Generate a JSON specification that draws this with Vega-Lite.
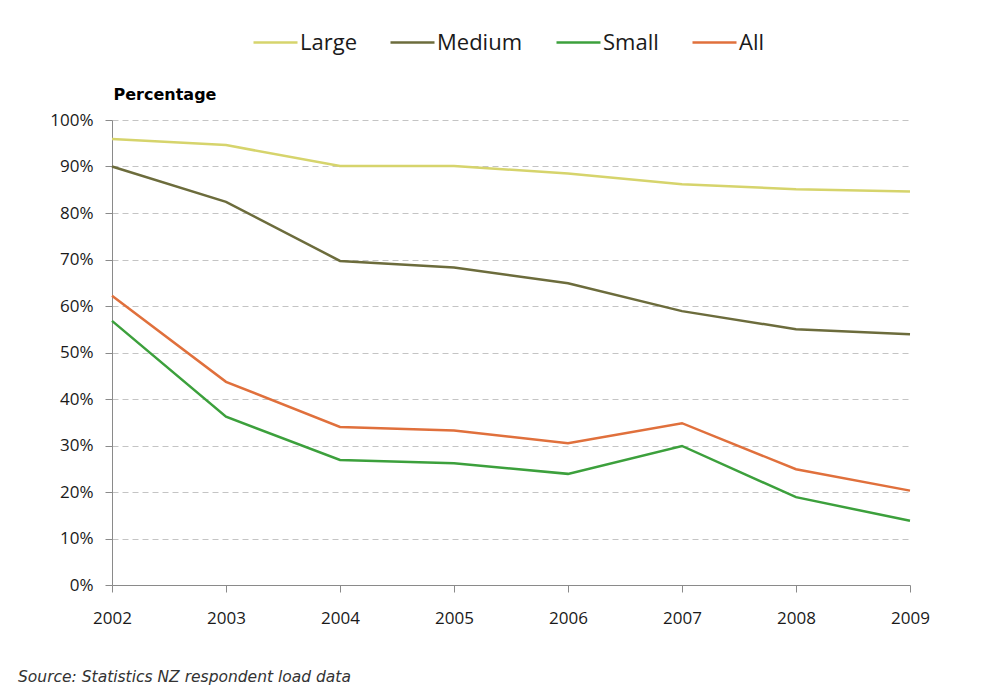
{
  "$schema": "https://vega.github.io/schema/vega-lite/v6.json",
  "width": 798,
  "height": 465,
  "autosize": "none",
  "padding": {"left": 112, "top": 120, "right": 74, "bottom": 111},
  "background": "white",
  "title": {
    "text": "Source: Statistics NZ respondent load data",
    "orient": "bottom",
    "anchor": "start",
    "frame": "group",
    "dx": -94,
    "offset": 44,
    "font": "DejaVu Sans",
    "fontSize": 15.5,
    "fontStyle": "italic",
    "fontWeight": "normal",
    "color": "#333333"
  },
  "config": {
    "view": {"stroke": null},
    "font": "Open Sans"
  },
  "data": {
    "values": [
      {"year": 2002, "size": "Large", "pct": 0.959},
      {"year": 2003, "size": "Large", "pct": 0.946},
      {"year": 2004, "size": "Large", "pct": 0.901},
      {"year": 2005, "size": "Large", "pct": 0.901},
      {"year": 2006, "size": "Large", "pct": 0.885},
      {"year": 2007, "size": "Large", "pct": 0.862},
      {"year": 2008, "size": "Large", "pct": 0.851},
      {"year": 2009, "size": "Large", "pct": 0.846},
      {"year": 2002, "size": "Medium", "pct": 0.900},
      {"year": 2003, "size": "Medium", "pct": 0.824},
      {"year": 2004, "size": "Medium", "pct": 0.697},
      {"year": 2005, "size": "Medium", "pct": 0.683},
      {"year": 2006, "size": "Medium", "pct": 0.649},
      {"year": 2007, "size": "Medium", "pct": 0.589},
      {"year": 2008, "size": "Medium", "pct": 0.550},
      {"year": 2009, "size": "Medium", "pct": 0.539},
      {"year": 2002, "size": "Small", "pct": 0.568},
      {"year": 2003, "size": "Small", "pct": 0.362},
      {"year": 2004, "size": "Small", "pct": 0.269},
      {"year": 2005, "size": "Small", "pct": 0.262},
      {"year": 2006, "size": "Small", "pct": 0.239},
      {"year": 2007, "size": "Small", "pct": 0.299},
      {"year": 2008, "size": "Small", "pct": 0.189},
      {"year": 2009, "size": "Small", "pct": 0.138},
      {"year": 2002, "size": "All", "pct": 0.622},
      {"year": 2003, "size": "All", "pct": 0.437},
      {"year": 2004, "size": "All", "pct": 0.340},
      {"year": 2005, "size": "All", "pct": 0.332},
      {"year": 2006, "size": "All", "pct": 0.305},
      {"year": 2007, "size": "All", "pct": 0.348},
      {"year": 2008, "size": "All", "pct": 0.249},
      {"year": 2009, "size": "All", "pct": 0.203}
    ]
  },
  "mark": {"type": "line", "strokeWidth": 2.5, "interpolate": "linear"},
  "encoding": {
    "x": {
      "field": "year",
      "type": "quantitative",
      "scale": {"domain": [2002, 2009], "nice": false, "zero": false},
      "axis": {
        "values": [2002, 2003, 2004, 2005, 2006, 2007, 2008, 2009],
        "format": "d",
        "title": null,
        "grid": false,
        "labelFlush": false,
        "labelBound": false,
        "labelOverlap": false,
        "domainColor": "#8a8a8a",
        "tickColor": "#8a8a8a",
        "tickSize": 7,
        "labelPadding": 18,
        "labelFontSize": 17,
        "labelColor": "#1a1a1a",
        "labelFont": "Open Sans"
      }
    },
    "y": {
      "field": "pct",
      "type": "quantitative",
      "scale": {"domain": [0, 1], "nice": false},
      "axis": {
        "values": [0, 0.1, 0.2, 0.3, 0.4, 0.5, 0.6, 0.7, 0.8, 0.9, 1],
        "format": ".0%",
        "title": "Percentage",
        "titleAngle": 0,
        "titleAlign": "left",
        "titleBaseline": "alphabetic",
        "titleX": 1,
        "titleY": -21,
        "titleFont": "DejaVu Sans",
        "titleFontSize": 16,
        "titleFontWeight": "bold",
        "titleColor": "#000000",
        "grid": true,
        "gridColor": "#c4c4c4",
        "gridDash": [6, 4],
        "gridWidth": 1,
        "labelFlush": false,
        "labelBound": false,
        "labelOverlap": false,
        "domainColor": "#8a8a8a",
        "tickColor": "#8a8a8a",
        "tickSize": 7,
        "labelPadding": 12,
        "labelFontSize": 17,
        "labelColor": "#1a1a1a",
        "labelFont": "Open Sans"
      }
    },
    "color": {
      "field": "size",
      "type": "nominal",
      "scale": {
        "domain": ["Large", "Medium", "Small", "All"],
        "range": ["#d6d46c", "#6c6c3c", "#3ca03c", "#e0703c"]
      },
      "legend": {
        "title": null,
        "orient": "none",
        "direction": "horizontal",
        "gridAlign": "none",
        "legendX": 140,
        "legendY": -101,
        "symbolType": "stroke",
        "symbolSize": 1936,
        "symbolStrokeWidth": 2.5,
        "labelFontSize": 22,
        "labelFont": "Open Sans",
        "labelColor": "#1a1a1a",
        "labelOffset": 1,
        "columnPadding": 28
      }
    }
  }
}
